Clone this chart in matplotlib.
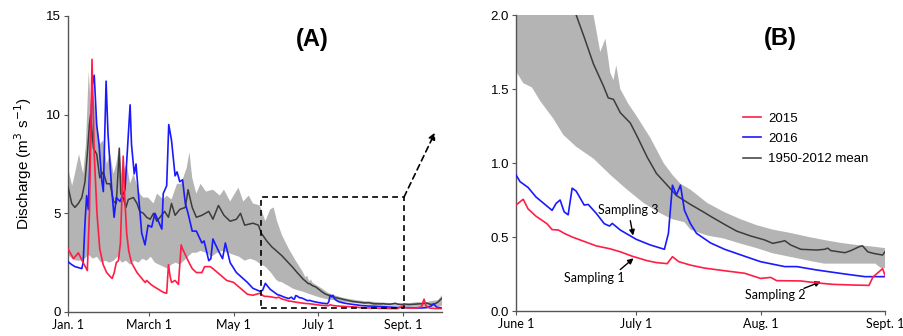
import numpy as np
import matplotlib
matplotlib.use("Agg")
import matplotlib.pyplot as plt

# ---------------- data (day of year, Jan 1 = 0; discharge m3/s) ----------------
days_2015 = [0, 4, 7.5, 11, 14, 15.5, 17.4, 19, 21, 23, 25.5, 28, 30.5, 32, 33.5, 35, 36.5, 38, 40, 41,
             42.5, 44, 46, 50, 54.6, 56, 57, 60, 62, 66.7, 69, 71.5, 72.8, 74, 75, 77.6, 80, 82, 83, 85,
             87, 90, 93, 97, 99, 103, 105, 110, 115, 120, 125, 130, 134, 139, 142, 146,
             151, 152.8, 154, 156, 158.7, 160, 161.6, 163, 165, 168, 171, 174.5, 177, 180, 183.7, 186,
             188.7, 190, 191.6, 194.5, 198, 203, 208, 212, 214.5, 216, 222, 226, 230, 234.5, 239, 240,
             242.4, 243.2, 246, 252, 256, 258, 259.5, 262, 266, 271]
q_2015 = [3.2, 2.7, 3.0, 2.5, 2.1, 5.0, 12.8, 8.0, 5.0, 3.2, 2.4, 2.0, 1.8, 1.7, 2.0, 2.5, 2.6, 3.5, 7.9, 6.0,
          4.0, 3.1, 2.5, 2.0, 1.6, 1.5, 1.6, 1.4, 1.3, 1.1, 1.0, 0.95, 2.4, 1.8, 1.5, 1.6, 1.4, 3.4, 3.2, 2.9,
          2.6, 2.2, 2.0, 2.0, 2.3, 2.3, 2.2, 1.9, 1.6, 1.5, 1.2, 0.9, 0.85, 0.95, 0.8, 0.78,
          0.716, 0.755, 0.69, 0.64, 0.59, 0.55, 0.547, 0.525, 0.50, 0.47, 0.44, 0.42, 0.40, 0.37, 0.34, 0.327,
          0.32, 0.367, 0.333, 0.31, 0.29, 0.272, 0.255, 0.22, 0.227, 0.205, 0.203, 0.19, 0.18, 0.176, 0.173, 0.23,
          0.286, 0.227, 0.2, 0.2, 0.25, 0.65, 0.3, 0.2, 0.18, 0.17]

days_2016 = [0, 2.7, 5, 10, 11, 12.3, 13.5, 14.7, 16, 17.6, 19, 20.8, 22.5, 24.4, 25.6, 27.6, 29, 31.7, 33.4,
             35, 37.7, 41.3, 43.3, 45, 46, 48, 49.3, 51, 53.4, 55.8, 58, 60.6, 63, 65.5, 68, 69, 71.5, 73,
             75, 77.6, 79, 81, 83, 85, 87, 90, 93, 97, 98.6, 102, 103.5, 105, 109, 112, 114, 117.5, 122,
             130, 134, 139, 141, 143, 146.5,
             151, 152, 154, 156, 160, 161, 162, 163, 164, 165, 166, 168, 169, 171, 173, 174.3, 175, 177,
             181, 184.5, 188, 189, 190, 191, 192, 193, 194.5, 196, 199.5, 203, 208, 212, 218, 221, 226,
             233, 238, 243, 248, 255, 260, 263, 265, 267, 271]
q_2016 = [2.55, 2.4, 2.3, 2.2, 2.5, 4.5, 5.9, 5.2, 8.0, 11.5, 12.0, 9.5, 8.5, 6.7, 6.1, 11.7, 9.0, 6.2, 4.8,
          5.8, 5.6, 6.2, 8.5, 10.5, 8.5, 7.0, 7.5, 6.0, 4.0, 3.4, 4.4, 4.3, 5.0, 4.6, 4.2, 6.0, 6.4, 9.5,
          8.7, 6.9, 7.1, 6.6, 6.7, 5.5, 5.0, 4.1, 4.1, 3.5, 3.6, 2.6, 2.7, 3.7, 3.1, 2.7, 3.5, 2.5, 2.0,
          1.5, 1.2, 1.05, 1.1, 1.45, 1.15,
          0.92, 0.874, 0.835, 0.77, 0.68, 0.727, 0.75, 0.67, 0.65, 0.83, 0.81, 0.716, 0.72, 0.66, 0.59, 0.574, 0.592, 0.547,
          0.484, 0.446, 0.417, 0.525, 0.85, 0.784, 0.85, 0.68, 0.59, 0.525, 0.46, 0.417, 0.37, 0.333, 0.30, 0.30, 0.277,
          0.25, 0.232, 0.232, 0.22, 0.2, 0.22, 0.3, 0.4, 0.25, 0.2]

days_mean = [0, 2.7, 5, 7.5, 10, 12.3, 14, 15.5, 16.4, 18.4, 20.8, 23, 25.6, 28, 30.5, 33, 35, 37.2, 38.2, 40,
             42, 43.7, 47.4, 50, 52, 54.6, 57, 59.5, 62, 64.3, 66.7, 70, 72.8, 75, 77.6, 81, 85, 87, 90, 93,
             97, 102, 105, 109, 113, 117.5, 122, 125, 128, 134, 138, 140, 144, 147.7, 151, 155, 159, 163,
             166, 168, 170.3, 172.8, 174, 175.3, 177, 179.5, 181.2, 183.7, 186, 188.7, 191, 194.5, 198,
             199.5, 203, 206, 209.5, 213, 215, 217, 218, 219.5, 222, 226, 228, 228.7, 229.5, 233, 234.5,
             236.6, 237.4, 238.7, 240, 242.4, 243.2, 247, 252, 256, 260, 263, 266, 268, 271]
q_mean = [6.35, 5.5, 5.3, 5.5, 5.8, 6.6, 8.0, 9.5, 10.0, 8.3, 8.0, 6.8, 7.1, 6.5, 6.5, 5.6, 5.5, 8.3, 6.0, 5.8,
          5.3, 5.7, 5.8, 5.5, 5.1, 5.0, 4.8, 4.7, 5.0, 4.6, 4.8, 5.1, 4.8, 5.5, 4.9, 5.2, 5.3, 6.2, 5.3, 4.8,
          4.9, 5.1, 4.7, 5.4, 4.9, 4.6, 4.7, 5.0, 4.4, 4.5, 4.4, 4.0, 3.6, 3.3, 3.1, 2.85, 2.55, 2.25,
          2.0, 1.85, 1.67, 1.52, 1.44, 1.43, 1.34, 1.27, 1.18, 1.04, 0.93, 0.85, 0.78, 0.72, 0.665,
          0.64, 0.585, 0.54, 0.507, 0.48, 0.457, 0.468, 0.475, 0.446, 0.417, 0.412, 0.417, 0.425, 0.408, 0.394, 0.408,
          0.435, 0.44, 0.40, 0.39, 0.378, 0.408, 0.38, 0.40, 0.42, 0.45, 0.38, 0.42, 0.5, 0.7]

days_upper = [0, 3, 5, 8, 11, 13, 15, 16.5, 18.5, 21, 23, 25.5, 28, 30.5, 33, 35, 37, 39, 42.5, 45, 47.5,
              50, 52, 54.5, 58, 62, 64.5, 69, 71.5, 75, 79, 82, 86, 88, 90, 93, 96, 100, 105, 110, 113,
              117.5, 120, 123.5, 127, 131, 134, 139, 143, 146.5, 149, 151.5, 155, 160, 165, 170,
              172, 173.3, 174.5, 175.3, 176, 177, 179, 181, 184.5, 187.8, 190, 192, 194.5, 198.7, 202.8,
              207, 211, 215, 219.5, 224, 227.8, 232, 236, 240, 243, 248, 253, 258, 263, 268, 271]
q_upper = [7.3, 6.4, 7.0, 8.0, 7.0, 8.5, 12.2, 10.5, 11.0, 9.5, 8.5, 8.7, 7.5, 8.0, 7.0, 7.5, 8.4, 7.0, 7.5, 6.5, 7.0,
           6.4, 6.0, 5.8, 5.8, 5.5, 6.0, 5.7, 5.9, 5.7, 6.5, 6.5, 7.3, 8.1, 6.8, 6.0, 6.5, 6.1, 6.2, 5.9, 6.2,
           5.6, 5.9, 6.3, 5.6, 5.9, 5.5, 5.4, 4.6, 5.2, 5.3, 4.6, 3.9, 3.2, 2.6, 2.05,
           1.75, 1.84, 1.61, 1.56, 1.66, 1.50, 1.40, 1.32, 1.17, 1.0, 0.92, 0.86, 0.82, 0.73, 0.67,
           0.62, 0.58, 0.55, 0.527, 0.50, 0.48, 0.46, 0.446, 0.435, 0.425, 0.45, 0.5, 0.48, 0.55, 0.6, 0.85]

days_lower = [0, 3, 6, 9, 12, 15, 18, 21, 24, 27, 30, 33, 36, 39, 42, 45, 48, 51, 54, 57, 60, 63, 66, 69,
              72, 75, 78, 81, 84, 87, 90, 93, 96, 100, 104, 108, 112, 116, 120, 124, 128, 132, 136, 140,
              143, 147,
              151, 152.8, 155, 157, 160.3, 162.8, 166, 170.3, 174.5, 178.7, 182.8, 187, 190, 193, 194.5,
              198.7, 202.8, 207, 211, 215, 219.5, 224, 227.8, 236, 240.6, 242, 243, 248, 255, 262, 271]
q_lower = [2.9, 2.7, 2.6, 2.6, 2.7, 2.9, 2.7, 2.8, 2.5, 2.6, 2.5, 2.6, 2.8, 2.5, 2.6, 2.4, 2.6, 2.5, 2.7, 2.6,
           2.8, 2.5, 2.4, 2.3, 2.2, 2.4, 2.5, 2.4, 2.6, 2.8, 3.0, 3.0, 3.1, 3.0, 2.8, 3.0, 3.1, 3.0, 2.9, 2.8,
           2.6, 2.7, 2.6, 2.4, 2.3, 2.0,
           1.62, 1.54, 1.51, 1.42, 1.30, 1.19, 1.11, 1.03, 0.92, 0.82, 0.73, 0.66, 0.62, 0.60, 0.55,
           0.51, 0.49, 0.455, 0.425, 0.39, 0.365, 0.34, 0.32, 0.32, 0.32, 0.29, 0.29, 0.27, 0.26, 0.26, 0.3]

labels_series = ["2015", "2016", "1950-2012 mean"]
a_ticks = [0, 59, 120, 181, 243]
a_ticklabels = ["Jan. 1", "March 1", "May 1", "July 1", "Sept. 1"]
a_yticks = [0, 5, 10, 15]
b_ticks = [151, 181, 212, 243]
b_ticklabels = ["June 1", "July 1", "Aug. 1", "Sept. 1"]
b_yticks = [0.0, 0.5, 1.0, 1.5, 2.0]
zoom_box = (140, 243.5, 0.2, 5.83)   # day0, day1, q0, q1
samplings = ["Sampling 1", "Sampling 2", "Sampling 3"]
sampling_tips = [(180.3, 0.356), (227.0, 0.198), (180.2, 0.51)]
sampling_tails = [(177.0, 0.28), (222.8, 0.153), (179.5, 0.61)]
sampling_text = [(170.5, 0.22), (215.7, 0.108), (179.0, 0.68)]

# ---------------- style ----------------
C15 = "#ff1e46"
C16 = "#1a1aff"
CM = "#3c3c3c"
CB = "#b4b4b4"
ARIAL = "Liberation Sans"
CALIBRI = "Lato"

fig = plt.figure(figsize=(9.04, 3.36), dpi=100)
axA = fig.add_axes([68 / 904, 1 - 312 / 336, 374 / 904, 296 / 336])
axB = fig.add_axes([516 / 904, 1 - 311 / 336, 369 / 904, 296 / 336])


def band(ax):
    xs = np.concatenate([days_upper, days_lower[::-1]])
    ys = np.concatenate([q_upper, q_lower[::-1]])
    ax.fill(xs, ys, color=CB, lw=0, zorder=1)


for ax in (axA, axB):
    band(ax)
    ax.plot(days_mean, q_mean, color=CM, lw=1.1, zorder=3, label=labels_series[2])
    ax.plot(days_2016, q_2016, color=C16, lw=1.2, zorder=4, label=labels_series[1])
    ax.plot(days_2015, q_2015, color=C15, lw=1.2, zorder=5, label=labels_series[0])
    for s in ("top", "right"):
        ax.spines[s].set_visible(False)
    for s in ("left", "bottom"):
        ax.spines[s].set_color("#555555")
        ax.spines[s].set_linewidth(1.0)
    ax.tick_params(axis="both", direction="out", length=3, width=0.8, color="#555555", pad=2)

# Panel A
axA.set_xlim(0, 271)
axA.set_ylim(0, 15)
axA.set_xticks(a_ticks)
axA.set_xticklabels(a_ticklabels, fontfamily=CALIBRI, fontsize=9)
axA.set_yticks(a_yticks)
axA.set_yticklabels([str(v) for v in a_yticks], fontfamily=ARIAL, fontsize=9.5)
axA.set_ylabel("Discharge (m$^{3}$ s$^{-1}$)", fontfamily=ARIAL, fontsize=11, labelpad=9)
axA.text(0.652, 0.919, "(A)", transform=axA.transAxes, ha="center", va="center",
         fontsize=17, fontweight="bold", fontfamily=ARIAL)

d0, d1, y0, y1 = zoom_box
axA.plot([d0, d1, d1, d0, d0], [y0, y0, y1, y1, y0], color="black", lw=1.2,
         dashes=(3.5, 2.5), zorder=6)
axA.annotate("", xy=(266, 9.1), xytext=(d1, y1),
             arrowprops=dict(arrowstyle="-|>", color="black", lw=1.2, linestyle=(0, (3.5, 2.5)),
                             mutation_scale=10, shrinkA=0, shrinkB=0), zorder=6)

# Panel B
axB.set_xlim(151, 243)
axB.set_ylim(0, 2.0)
axB.set_xticks(b_ticks)
axB.set_xticklabels(b_ticklabels, fontfamily=CALIBRI, fontsize=9)
axB.set_yticks(b_yticks)
axB.set_yticklabels([f"{v:.1f}" for v in b_yticks], fontfamily=ARIAL, fontsize=9.5)
axB.text(0.715, 0.922, "(B)", transform=axB.transAxes, ha="center", va="center",
         fontsize=17, fontweight="bold", fontfamily=ARIAL)

h, l = axB.get_legend_handles_labels()
order = [2, 1, 0]
axB.legend([h[i] for i in order], [l[i] for i in order], loc="upper left",
           bbox_to_anchor=(0.615, 0.67), frameon=False, borderpad=0, borderaxespad=0,
           handlelength=1.4, handletextpad=0.5, labelspacing=0.6,
           prop={"family": ARIAL, "size": 9.5})

for name, tip, tail, txt in zip(samplings, sampling_tips, sampling_tails, sampling_text):
    axB.text(txt[0], txt[1], name, ha="center", va="center", fontfamily=CALIBRI, fontsize=9)
    axB.annotate("", xy=tip, xytext=tail,
                 arrowprops=dict(arrowstyle="-|>", color="black", lw=1.0,
                                 mutation_scale=8, shrinkA=0, shrinkB=0))

fig.savefig("out.png", dpi=100)
